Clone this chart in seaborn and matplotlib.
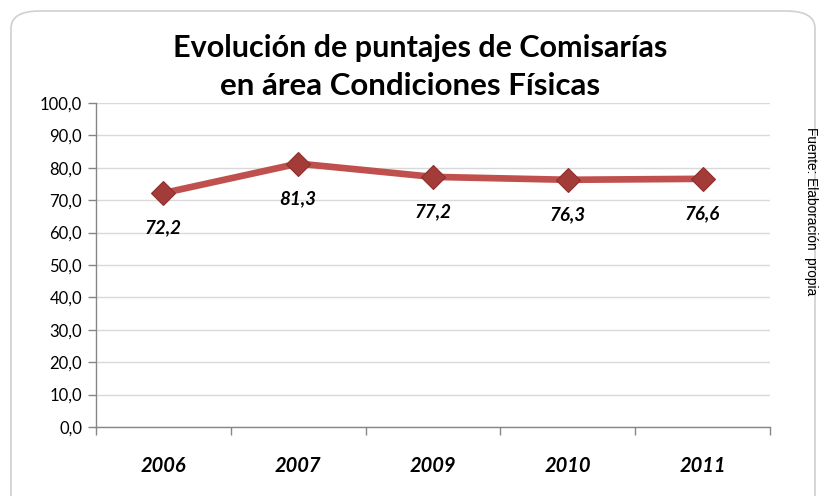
import matplotlib
matplotlib.use("Agg")
import matplotlib.pyplot as plt
import seaborn as sns
import pandas as pd
from matplotlib.patches import FancyBboxPatch
from matplotlib.ticker import FuncFormatter, FixedLocator

years = ["2006", "2007", "2009", "2010", "2011"]
scores = [72.2, 81.3, 77.2, 76.3, 76.6]
labels = ["72,2", "81,3", "77,2", "76,3", "76,6"]

sns.set_theme(style="white")
plt.rcParams['font.family'] = ['Lato', 'DejaVu Sans']

fig = plt.figure(figsize=(8.21, 4.96), dpi=100)
# outer rounded frame
frame = FancyBboxPatch((11/821, -0.05), 804/821, 1.0 - 11/496 + 0.05,
                       boxstyle="round,pad=0,rounding_size=0.035",
                       transform=fig.transFigure, facecolor="white",
                       edgecolor="#D0D0D0", linewidth=1.2, zorder=-5)
fig.patches.append(frame)

ax = fig.add_axes([96/821, 1 - 427/496, (770-96)/821, (427-103)/496])
ax.set_zorder(2)
ax.set_facecolor("none")

df = pd.DataFrame({"x": list(range(len(years))), "score": scores})
sns.lineplot(data=df, x="x", y="score", ax=ax, color="#C0504D", linewidth=4.8,
             marker="D", markersize=12, markerfacecolor="#A33B39",
             markeredgecolor="#8E2F2D", markeredgewidth=0.8, zorder=3)

ax.set_xlim(-0.5, len(years) - 0.5)
ax.set_ylim(0, 100)
ax.set_xlabel("")
ax.set_ylabel("")
ax.yaxis.set_major_locator(FixedLocator([i * 10 for i in range(11)]))
ax.yaxis.set_major_formatter(FuncFormatter(lambda v, p: f"{v:.1f}".replace(".", ",")))
ax.grid(axis="y", color="#D9D9D9", linewidth=1.0)
ax.grid(axis="x", visible=False)

ax.set_xticks([i - 0.5 for i in range(len(years) + 1)])
ax.set_xticklabels([])
ax.set_xticks(list(range(len(years))), minor=True)
ax.set_xticklabels(years, minor=True, fontsize=14.5, fontweight="bold",
                   fontstyle="italic", color="black")
ax.tick_params(axis="x", which="major", length=6, width=1, color="#868686", direction="out", bottom=True)
ax.tick_params(axis="x", which="minor", length=0, pad=21)
ax.tick_params(axis="y", which="major", length=6, width=1, color="#868686", direction="out",
               left=True, labelsize=12, labelcolor="black", pad=4)

for s in ["top", "right"]:
    ax.spines[s].set_visible(False)
for s in ["left", "bottom"]:
    ax.spines[s].set_color("#868686")
    ax.spines[s].set_linewidth(1.0)

for i, (v, lab) in enumerate(zip(scores, labels)):
    ax.annotate(lab, (i, v), xytext=(0, -19), textcoords="offset points",
                ha="center", va="top", fontsize=13.5, fontweight="bold",
                fontstyle="italic", color="black")

fig.text(420/821, 1 - 48/496, "Evolución de puntajes de Comisarías", ha="center",
         va="center", fontsize=22, fontweight="bold", color="black")
fig.text(410/821, 1 - 86/496, "en área Condiciones Físicas", ha="center",
         va="center", fontsize=22.5, fontweight="bold", color="black")

fig.text(811/821, 1 - 211/496, "Fuente: Elaboración  propia", rotation=-90,
         ha="center", va="center", fontsize=9.8, color="black",
         family=["Liberation Sans", "DejaVu Sans"])

fig.savefig("out.png", dpi=100)
